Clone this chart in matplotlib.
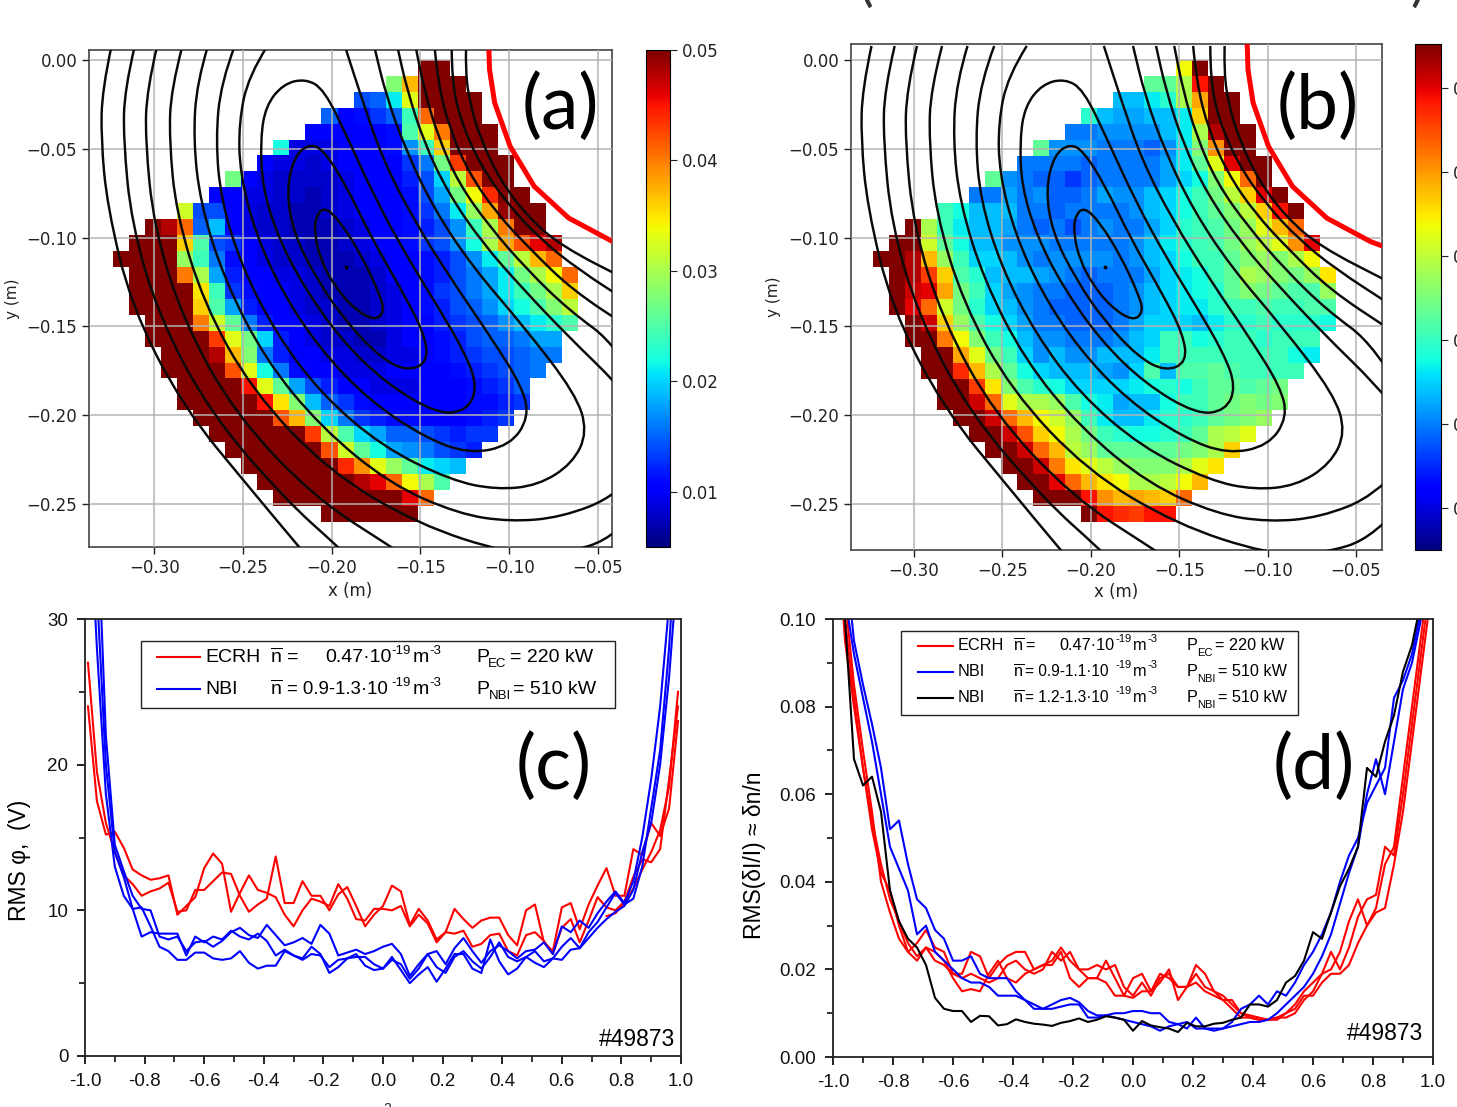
import numpy as np
import matplotlib
matplotlib.use('Agg')
import matplotlib.pyplot as plt
from matplotlib.path import Path
from matplotlib.patches import PathPatch, Rectangle
from matplotlib.lines import Line2D

W, H = 1457, 1107
plt.rcParams['mathtext.default'] = 'regular'
plt.rcParams['mathtext.fontset'] = 'custom'
plt.rcParams['mathtext.rm'] = 'Liberation Sans'

# Cell grid of the two maps (first column of each row, then cell values in 1e-3)
a_start = [19, 17, 15, 13, 12, 10, 9, 7, 6, 4, 2, 1, 0, 1, 1, 1, 2, 2, 3, 3, 4, 4, 5, 6, 7, 8, 9, 10, 13]
a_cells = [
    [50, 50],
    [28, 37, 50, 50, 50],
    [14, 15, 21, 33, 50, 50, 50, 50],
    [15, 10, 11, 13, 15, 24, 41, 50, 50, 50],
    [10, 10, 10, 10, 10, 11, 25, 33, 40, 50, 50, 50],
    [22, 9, 9, 9, 10, 10, 10, 11, 17, 24, 36, 50, 50, 50],
    [10, 9, 9, 8, 9, 10, 10, 10, 10, 13, 16, 27, 43, 50, 50, 50],
    [27, 10, 9, 8, 8, 8, 8, 9, 10, 10, 10, 12, 14, 20, 31, 42, 50, 50],
    [10, 10, 9, 9, 8, 8, 7, 8, 9, 10, 10, 10, 11, 14, 18, 27, 34, 44, 50, 50],
    [32, 14, 14, 10, 9, 8, 8, 7, 7, 8, 9, 10, 10, 10, 11, 13, 16, 21, 29, 38, 49, 50, 50],
    [50, 48, 41, 15, 19, 10, 9, 8, 8, 7, 7, 7, 8, 9, 10, 10, 11, 12, 14, 17, 24, 30, 40, 50, 50],
    [50, 50, 50, 36, 25, 14, 13, 10, 9, 8, 8, 7, 7, 8, 9, 10, 10, 11, 13, 14, 17, 22, 30, 38, 42, 46, 48],
    [50, 50, 50, 50, 29, 24, 16, 11, 10, 9, 8, 8, 7, 7, 7, 8, 9, 10, 10, 11, 12, 14, 17, 21, 26, 31, 37, 41],
    [50, 50, 50, 40, 30, 18, 12, 10, 10, 9, 9, 8, 7, 7, 7, 8, 10, 10, 11, 12, 14, 16, 18, 21, 27, 30, 34, 41],
    [50, 50, 50, 50, 35, 24, 13, 11, 10, 10, 9, 8, 7, 7, 7, 8, 9, 10, 11, 13, 14, 16, 18, 21, 24, 27, 30, 36],
    [50, 50, 50, 50, 36, 25, 18, 12, 10, 10, 9, 8, 8, 7, 7, 8, 9, 10, 11, 12, 14, 15, 17, 20, 22, 25, 28, 31],
    [50, 50, 50, 40, 32, 26, 16, 12, 10, 10, 9, 8, 7, 7, 8, 9, 10, 10, 12, 13, 14, 15, 17, 19, 21, 23, 25],
    [50, 50, 50, 50, 43, 33, 27, 20, 12, 10, 9, 8, 8, 7, 7, 9, 10, 10, 11, 12, 14, 15, 15, 16, 18, 18],
    [50, 50, 50, 48, 37, 28, 16, 12, 10, 10, 9, 9, 8, 8, 9, 9, 10, 11, 12, 13, 14, 14, 15, 16, 16],
    [50, 50, 50, 50, 42, 33, 22, 16, 11, 10, 10, 9, 9, 9, 10, 10, 10, 10, 11, 12, 13, 14, 15, 16],
    [50, 50, 50, 50, 45, 33, 26, 18, 14, 12, 10, 10, 9, 9, 9, 10, 10, 10, 11, 12, 13, 15],
    [50, 50, 50, 50, 50, 45, 35, 28, 19, 15, 13, 11, 10, 10, 10, 10, 10, 10, 11, 11, 12, 13],
    [50, 50, 50, 50, 50, 42, 37, 28, 20, 16, 13, 12, 11, 11, 10, 10, 10, 11, 12, 13],
    [50, 50, 50, 50, 50, 50, 43, 31, 25, 20, 18, 15, 15, 14, 13, 12, 13, 13],
    [50, 50, 50, 50, 50, 50, 42, 32, 26, 22, 18, 17, 16, 14, 13, 12],
    [50, 50, 50, 50, 50, 50, 44, 39, 33, 29, 26, 21, 20, 19],
    [50, 50, 50, 50, 50, 50, 48, 46, 41, 34, 30, 25],
    [50, 50, 50, 50, 50, 50, 50, 50, 46, 41],
    [50, 50, 50, 50, 50, 50],
]
b_start = [19, 17, 15, 13, 12, 10, 9, 7, 6, 4, 2, 1, 0, 1, 1, 1, 2, 2, 3, 3, 4, 4, 5, 6, 7, 8, 9, 10, 13]
b_cells = [
    [34, 50],
    [26, 26, 30, 45, 50],
    [19, 19, 21, 23, 30, 38, 50, 50],
    [23, 19, 18, 18, 19, 19, 21, 36, 50, 50],
    [16, 16, 17, 17, 17, 17, 19, 21, 30, 48, 50, 50],
    [26, 17, 17, 17, 16, 16, 16, 15, 17, 21, 28, 39, 50, 50],
    [16, 16, 16, 16, 15, 16, 16, 16, 16, 18, 21, 26, 33, 46, 50, 50],
    [26, 17, 16, 15, 15, 13, 15, 16, 16, 16, 16, 18, 20, 22, 28, 34, 41, 50],
    [16, 16, 18, 16, 17, 15, 15, 16, 18, 17, 17, 19, 20, 22, 24, 27, 31, 36, 46, 50],
    [24, 22, 19, 19, 19, 16, 16, 15, 16, 16, 16, 16, 17, 19, 20, 22, 24, 26, 28, 31, 36, 45, 50],
    [50, 30, 24, 21, 19, 19, 18, 16, 15, 16, 14, 16, 17, 16, 16, 18, 20, 23, 24, 25, 27, 29, 33, 37, 41],
    [50, 50, 32, 26, 22, 19, 19, 17, 17, 17, 16, 16, 16, 16, 16, 17, 19, 21, 23, 24, 25, 27, 29, 31, 33, 39, 46],
    [50, 50, 48, 37, 29, 24, 20, 20, 19, 17, 16, 17, 17, 17, 17, 16, 17, 19, 20, 22, 24, 24, 26, 28, 29, 28, 30, 34],
    [50, 48, 43, 36, 25, 23, 19, 19, 19, 18, 17, 16, 15, 16, 16, 16, 18, 20, 21, 22, 24, 26, 30, 29, 28, 27, 29, 35],
    [50, 47, 46, 38, 27, 24, 20, 18, 17, 16, 16, 15, 15, 15, 16, 17, 19, 20, 21, 22, 23, 26, 28, 27, 26, 25, 25, 29],
    [50, 46, 41, 32, 27, 23, 20, 19, 17, 16, 15, 15, 15, 15, 16, 17, 19, 20, 21, 21, 23, 24, 24, 25, 24, 24, 25, 25],
    [50, 47, 36, 29, 25, 22, 20, 18, 16, 16, 15, 15, 15, 16, 18, 20, 20, 20, 19, 21, 23, 23, 24, 23, 23, 23, 22],
    [50, 50, 40, 34, 28, 24, 22, 19, 17, 17, 16, 16, 16, 17, 19, 20, 24, 24, 22, 23, 24, 24, 23, 24, 24, 24],
    [50, 50, 38, 33, 27, 24, 20, 17, 19, 17, 17, 19, 19, 19, 21, 24, 24, 24, 24, 24, 24, 24, 24, 22, 21],
    [50, 50, 44, 37, 30, 26, 22, 20, 19, 19, 19, 18, 17, 20, 25, 19, 25, 25, 26, 25, 24, 24, 24, 24],
    [50, 50, 43, 35, 28, 25, 23, 22, 20, 20, 20, 20, 21, 22, 23, 22, 24, 26, 26, 25, 26, 27],
    [50, 50, 47, 41, 33, 30, 30, 29, 25, 22, 21, 18, 19, 19, 22, 24, 24, 26, 27, 28, 27, 28],
    [50, 50, 47, 41, 37, 34, 32, 29, 24, 21, 19, 19, 21, 23, 23, 24, 26, 27, 28, 29],
    [50, 50, 47, 42, 36, 34, 30, 27, 24, 23, 22, 22, 23, 24, 26, 30, 31, 33],
    [50, 50, 47, 41, 37, 31, 29, 26, 26, 26, 26, 26, 27, 28, 30, 36],
    [50, 50, 47, 40, 35, 33, 31, 29, 28, 28, 28, 30, 33, 35],
    [50, 50, 46, 41, 37, 35, 34, 30, 30, 31, 34, 37],
    [50, 50, 50, 45, 39, 37, 38, 37, 36, 41],
    [50, 45, 44, 43, 45, 45],
]

# Flux surfaces, metres
c1_x = [-.2038, -.2090, -.2096, -.2061, -.1993, -.1887, -.1761, -.1702, -.1732, -.1829, -.1945]
c1_y = [-.0825, -.0881, -.0985, -.1126, -.1258, -.1389, -.1470, -.1418, -.1314, -.1107, -.0919]
c2_x = [-.2116, -.2207, -.2255, -.2216, -.2081, -.1926, -.1732, -.1576, -.1456, -.1479, -.1596, -.1770, -.1926, -.2042]
c2_y = [-.0471, -.0533, -.0730, -.0975, -.1239, -.1465, -.1672, -.1753, -.1700, -.1540, -.1314, -.1013, -.0693, -.0514]
c3_x = [-.2149, -.2275, -.2372, -.2401, -.2391, -.2304, -.2158, -.1945, -.1693, -.1402, -.1237, -.1179, -.1247, -.1402, -.1576, -.1751, -.1906, -.2042]
c3_y = [-.0105, -.0137, -.0260, -.0448, -.0712, -.0994, -.1276, -.1578, -.1822, -.1995, -.1973, -.1841, -.1653, -.1389, -.1107, -.0787, -.0448, -.0166]
c4_x = [-.2362, -.2469, -.2523, -.2517, -.2430, -.2275, -.2061, -.1790, -.1479, -.1227, -.0995, -.0888, -.0927, -.1092, -.1324, -.1538, -.1712, -.1829, -.1926]
c4_y = [.0079, -.0090, -.0354, -.0636, -.0975, -.1314, -.1634, -.1916, -.2124, -.2218, -.2171, -.2011, -.1841, -.1578, -.1239, -.0900, -.0561, -.0222, .0079]
c5_x = [-.2546, -.2624, -.2653, -.2624, -.2507, -.2313, -.2061, -.1712, -.1324, -.1072, -.0839, -.0645, -.0558, -.0626, -.0917, -.1208, -.1421, -.1576, -.1693, -.1761]
c5_y = [.0079, -.0128, -.0448, -.0787, -.1163, -.1540, -.1879, -.2180, -.2368, -.2419, -.2396, -.2274, -.2095, -.1879, -.1502, -.1163, -.0843, -.0523, -.0203, .0079]
c6_x = [-.2697, -.2760, -.2779, -.2740, -.2604, -.2372, -.2061, -.1673, -.1286, -.0995, -.0704, -.0393, -.0122, -.0393, -.0665, -.0917, -.1150, -.1344, -.1479, -.1576, -.1631]
c6_y = [.0079, -.0128, -.0448, -.0806, -.1239, -.1690, -.2067, -.2387, -.2556, -.2600, -.2575, -.2453, -.2142, -.1822, -.1559, -.1295, -.1032, -.0749, -.0467, -.0166, .0079]
c7_x = [-.2841, -.2905, -.2915, -.2876, -.2721, -.2449, -.2022, -.1518, -.0995, -.0704, -.0393, -.0025, -.0393, -.0665, -.0898, -.1111, -.1286, -.1402, -.1479, -.1528]
c7_y = [.0079, -.0166, -.0448, -.0862, -.1370, -.1860, -.2312, -.2613, -.2782, -.2782, -.2688, -.2236, -.1606, -.1408, -.1182, -.0938, -.0693, -.0429, -.0166, .0079]
c8_x = [-.2983, -.3041, -.3050, -.3002, -.2837, -.2546, -.2100, -.1654, -.1518]
c8_y = [.0079, -.0166, -.0448, -.0938, -.1465, -.1992, -.2462, -.2749, -.2839]
c8u_x = [-.1421, -.1402, -.1334, -.1227, -.1072, -.0878, -.0645, -.0316]
c8u_y = [.0079, -.0128, -.0392, -.0636, -.0862, -.1069, -.1295, -.1512]
c9_x = [-.3109, -.3167, -.3173, -.3128, -.2973, -.2682, -.2255, -.1955, -.1867]
c9_y = [.0079, -.0166, -.0448, -.0919, -.1446, -.1992, -.2481, -.2749, -.2839]
c9u_x = [-.1324, -.1324, -.1276, -.1169, -.1014, -.0820, -.0607, -.0316]
c9u_y = [.0079, -.0109, -.0335, -.0580, -.0806, -.1013, -.1182, -.1370]
c10_x = [-.3240, -.3293, -.3299, -.3264, -.3128, -.2837, -.2449, -.2178, -.2100]
c10_y = [.0079, -.0166, -.0448, -.0825, -.1389, -.1954, -.2425, -.2749, -.2839]
c10u_x = [-.1243, -.1247, -.1218, -.1159, -.1053, -.0898, -.0704, -.0316]
c10u_y = [.0079, -.0072, -.0260, -.0448, -.0674, -.0881, -.1050, -.1248]
lcfs_x = [-.1115, -.1111, -.1082, -.0995, -.0859, -.0665, -.0418, -.0316]
lcfs_y = [.0079, -.0053, -.0241, -.0486, -.0712, -.0890, -.1022, -.1060]
axis_x, axis_y = -.1920, -.1163

# Profiles
rho = [-.99, -.96, -.93, -.90, -.87, -.84, -.81, -.78, -.75, -.72,
       -.69, -.66, -.63, -.60, -.57, -.54, -.51, -.48, -.45, -.42,
       -.39, -.36, -.33, -.30, -.27, -.24, -.21, -.18, -.15, -.12,
       -.09, -.06, -.03, 0, .03, .06, .09, .12, .15, .18,
       .21, .24, .27, .30, .33, .36, .39, .42, .45, .48,
       .51, .54, .57, .60, .63, .66, .69, .72, .75, .78,
       .81, .84, .87, .90, .93, .96, .99]

c_red1 = [24, 17.5, 15.2, 15.4, 14.3, 12.8, 12.4, 12.1, 12.2, 12.4,
          9.7, 10.3, 10.9, 12.9, 13.9, 13.2, 9.9, 11.2, 12.4, 11.4,
          11.2, 10.9, 9.7, 8.9, 10.0, 10.8, 10.6, 10.3, 11.8, 10.8,
          9.4, 9.3, 10.1, 10.1, 10.0, 10.3, 8.9, 9.7, 9.1, 7.8,
          8.5, 8.4, 8.6, 7.5, 7.7, 8.3, 8.4, 7.2, 6.9, 8.3,
          8.5, 7.9, 7.0, 8.8, 9.4, 7.8, 9.3, 10.9, 10.2, 10.0,
          10.6, 12.3, 13.5, 13.3, 14.2, 19, 24]
c_red2 = [27, 19.5, 16, 14.0, 12.4, 11.8, 11.0, 11.3, 11.5, 11.9,
          9.9, 10, 11.4, 11.4, 12, 12.6, 12.5, 11, 9.9, 10.4,
          10.8, 13.7, 10.5, 10.5, 12, 11.0, 11, 10, 11.1, 11.6,
          10.3, 8.9, 9.7, 10.3, 11.7, 11.3, 9.0, 10.1, 9.3, 8.0,
          8.5, 10.1, 9.4, 8.8, 9.3, 9.5, 9.5, 8.3, 7.6, 10.0,
          10.4, 7.8, 7.2, 10.2, 10.5, 8.7, 10.4, 11.7, 12.9, 11.0,
          11.0, 14.2, 13.8, 16, 15.1, 17, 23]
c_red3_x = [.75, .78, .81, .84, .87, .90, .93, .96, .99]
c_red3 = [9.6, 9.8, 10.5, 11.5, 12.8, 14, 15.5, 18.5, 25]
c_blue1 = [50, 38, 22, 14.5, 12.7, 11.0, 10.1, 10.0, 8.2, 8.0,
           8.2, 7.2, 7.8, 7.9, 7.5, 7.9, 8.5, 8.8, 8.3, 8.1,
           9.0, 8.3, 7.6, 7.8, 8.1, 7.7, 9.0, 8.4, 6.9, 7.1,
           7.3, 7.0, 7.2, 7.5, 7.7, 7.0, 5.5, 6.3, 7.0, 7.2,
           6.3, 7.4, 8.1, 7.2, 6.4, 7.2, 7.6, 7.2, 6.7, 7.2,
           7.3, 7.8, 7.0, 8.9, 8.5, 9.3, 8.8, 9.8, 10.6, 11.3,
           10.5, 12, 15, 19, 24, 31, 40]
c_blue2 = [44, 32, 20, 14, 12.3, 10.1, 8.2, 8.5, 8.4, 8.4,
           8.4, 6.9, 8.2, 7.8, 8.2, 8.0, 8.6, 8.2, 8.0, 8.4,
           7.9, 6.9, 7.3, 6.9, 6.7, 7.5, 7.0, 5.7, 6.1, 6.7,
           6.8, 6.8, 6.3, 6.0, 6.6, 6.3, 5.3, 6.0, 7.0, 6.1,
           5.7, 6.8, 7.2, 6.5, 6.0, 6.8, 7.8, 6.8, 6.5, 6.8,
           7.2, 6.5, 6.7, 7.5, 8.1, 7.4, 8.5, 9.2, 10.2, 11.2,
           10.4, 10.8, 13, 17, 21, 28, 38]
c_blue3 = [40, 28, 18, 13, 11, 10.1, 10.2, 8.9, 7.5, 7.2,
           6.6, 6.6, 7.1, 7.1, 6.7, 6.6, 6.7, 7.2, 6.4, 6.0,
           6.2, 6.2, 7.2, 6.9, 6.6, 7.0, 6.9, 6.1, 6.6, 6.7,
           7.0, 6.2, 5.9, 6.0, 6.8, 5.9, 5.0, 5.6, 6.1, 5.1,
           6.0, 7.0, 7.0, 6.0, 5.7, 8, 6.5, 5.6, 6.0, 6.8,
           6.4, 6.1, 6.7, 6.6, 7.3, 7.4, 8.1, 8.8, 9.4, 9.9,
           10.3, 11.4, 14, 16, 20, 26, 34]

# panel (d) values in 1e-3
d_red1 = [130, 100, 82, 66, 54, 44, 36, 31, 26, 23,
          25, 22, 21, 19, 19, 24, 23, 18, 21, 23,
          24, 24, 20, 21, 22, 25, 22, 20, 18, 18,
          22, 18, 14, 18, 19, 15, 17, 20, 13, 16,
          21, 19, 15, 14, 12, 10, 9.5, 9, 8.5, 9,
          9, 10, 13, 15, 19, 24, 20, 25, 32, 36,
          37, 48, 46, 60, 76, 92, 108]
d_red2 = [125, 95, 80, 66, 52, 42, 38, 30, 24, 22,
          25, 24, 22, 18, 15, 15.5, 15, 19, 22, 18,
          17, 19, 20, 21, 21, 24, 18, 16, 18, 18,
          17, 14, 14, 13.5, 15, 15, 19, 18, 16, 16,
          17, 15, 14, 13, 11, 9, 9, 8.5, 8.5, 8.5,
          10, 11, 14, 14, 17, 19, 19, 21, 26, 30,
          33, 34, 44, 56, 72, 88, 104]
d_red3 = [135, 105, 85, 70, 56, 40, 33, 27, 24, 26,
          29, 25, 24, 19, 18, 19, 18, 17, 18, 21,
          22, 20, 19, 20, 24, 22, 24, 20, 20, 21,
          20, 21, 16, 14, 17, 14, 18, 19, 16, 16,
          19, 16, 15, 13, 13, 10, 9, 8.5, 8.5, 9,
          10, 12, 15, 17, 19, 20, 24, 31, 36, 30,
          34, 44, 48, 64, 80, 96, 112]
d_blue1 = [140, 115, 95, 85, 76, 66, 52, 54, 44, 36,
           34, 29, 27, 22, 22, 23, 19, 18, 18, 18,
           15, 13, 11, 11, 12, 13, 13.5, 12.5, 10.5, 9.5,
           9.5, 9, 8.5, 8, 7.5, 7, 6, 7, 7.5, 8,
           6.5, 6.5, 6.5, 6.5, 8, 11, 12, 14, 12, 15,
           14, 17, 21, 24, 28, 33, 40, 46, 50, 58,
           62, 66, 82, 86, 92, 102, 125]
d_blue2 = [128, 105, 92, 82, 72, 60, 48, 43, 38, 28,
           30, 24, 22, 20, 18, 17, 17, 16, 14, 14,
           14, 13, 12, 11, 11, 11.5, 12, 12, 9, 9,
           9.5, 10, 10, 10.5, 10.5, 10, 10, 8, 7.5, 6.5,
           9, 6.5, 6, 6.5, 7, 7.5, 8, 8, 8.5, 10,
           12, 14, 16, 19, 23, 28, 35, 42, 48, 60,
           68, 60, 72, 84, 90, 100, 118]
d_black = [130, 100, 68, 62, 64, 56, 38, 31, 27, 25,
           21, 13.5, 11, 10.5, 10.5, 8, 9.4, 9.3, 7.2, 7.5,
           8.6, 8, 7.6, 7.4, 7.1, 7.8, 8.2, 8.8, 8, 8.5,
           9.3, 9, 8.5, 6, 8.2, 7.2, 6.8, 6.5, 5.7, 7.8,
           7, 7, 7.6, 7.8, 8.5, 9, 12, 12, 11.5, 13,
           17, 18.5, 22, 28.5, 27, 33, 39, 43, 48, 66,
           64, 72, 78, 88, 94, 104, 125]

x_ticks_map = [-.30, -.25, -.20, -.15, -.10, -.05]
y_ticks_map = [0, -.05, -.10, -.15, -.20, -.25]
rho_ticks = [-1.0, -0.8, -0.6, -0.4, -0.2, 0.0, 0.2, 0.4, 0.6, 0.8, 1.0]


def px_axes(left, top, right, bottom):
    return fig.add_axes([left / W, 1 - bottom / H, (right - left) / W, (bottom - top) / H])


def put(x, y, s, **kw):
    kw.setdefault('va', 'center')
    kw.setdefault('family', 'Liberation Sans')
    fig.text(x / W, 1 - y / H, s, **kw)


def smooth(x, y, closed=False):
    p = np.column_stack([x, y])
    mid = (p + np.roll(p, -1, axis=0)) / 2
    if closed:
        verts = [mid[-1]]
        for i in range(len(p)):
            verts += [p[i], mid[i]]
        return Path(verts, [Path.MOVETO] + [Path.CURVE3] * (2 * len(p)))
    verts = [p[0]]
    for i in range(1, len(p) - 1):
        verts += [p[i], mid[i]]
    verts.append(p[-1])
    return Path(verts, [Path.MOVETO] + [Path.CURVE3] * (2 * (len(p) - 2)) + [Path.LINETO])


def grid_from(start, cells):
    g = np.full((29, 29), np.nan)
    for j, (s, row) in enumerate(zip(start, cells)):
        g[j, s:s + len(row)] = row
    return np.ma.masked_invalid(g)


def draw_map(ax, values, vmin, vmax, xlim, ylim):
    xe = np.linspace(-.3231, -.0613, 30)
    ye = np.linspace(0, -.2600, 30)
    m = ax.pcolormesh(xe, ye, values, cmap='jet', vmin=vmin, vmax=vmax, zorder=1)
    for x, y, closed in [(c1_x, c1_y, True), (c2_x, c2_y, True), (c3_x, c3_y, True),
                         (c4_x, c4_y, False), (c5_x, c5_y, False), (c6_x, c6_y, False),
                         (c7_x, c7_y, False), (c8_x, c8_y, False), (c8u_x, c8u_y, False),
                         (c9_x, c9_y, False), (c9u_x, c9u_y, False),
                         (c10_x, c10_y, False), (c10u_x, c10u_y, False)]:
        ax.add_patch(PathPatch(smooth(x, y, closed), fc='none', ec='#0a0a0a', lw=1.75, zorder=3))
    ax.plot(lcfs_x, lcfs_y, color='#ff0000', lw=3.6, zorder=4)
    ax.plot(axis_x, axis_y, 'o', color='k', ms=1.8, zorder=4)
    ax.set_xlim(xlim)
    ax.set_ylim(ylim)
    ax.set_xticks(x_ticks_map)
    ax.set_yticks(y_ticks_map)
    ax.grid(True, color='#b4b4b4', lw=1.1, zorder=2)
    ax.set_axisbelow(False)
    ax.tick_params(labelsize=12, length=5, width=1, colors='#222222')
    for sp in ax.spines.values():
        sp.set_color('#444444')
        sp.set_linewidth(1.2)
    return m


def draw_profiles(ax, ylim, yticks, yminor, fmt):
    ax.set_xlim(-1, 1)
    ax.set_ylim(ylim)
    ax.set_xticks(rho_ticks)
    ax.set_xticklabels(['%.1f' % t for t in rho_ticks], family='Liberation Sans', fontsize=13.5)
    ax.set_xticks(np.arange(-.9, 1, .2), minor=True)
    ax.set_yticks(yticks)
    ax.set_yticklabels([fmt % t for t in yticks], family='Liberation Sans', fontsize=13.5)
    ax.set_yticks(yminor, minor=True)
    ax.tick_params(which='major', length=6, width=1.3, pad=6, colors='#111111')
    ax.tick_params(which='minor', length=4, width=1.2, colors='#111111')
    for sp in ax.spines.values():
        sp.set_linewidth(1.3)
        sp.set_color('#222222')


def legend_row(y, fs, lab_x, lab, bar_x, eq_x, eq, eq_fs, val_x, val, exp_x, unit_x, unit_exp_x, p_x, sub_x, sub, pw_x, pw, sup_fs):
    put(lab_x, y, lab, fontsize=fs)
    put(bar_x, y, r'$\overline{n}$', fontsize=fs)
    put(eq_x, y, eq, fontsize=eq_fs)
    if val:
        put(val_x, y, val, fontsize=fs)
    put(exp_x, y - 6.5, '-19', fontsize=sup_fs)
    put(unit_x, y, 'm', fontsize=fs)
    put(unit_exp_x, y - 6.5, '-3', fontsize=sup_fs)
    put(p_x, y, 'P', fontsize=fs)
    put(sub_x, y + 7, sub, fontsize=sup_fs)
    put(pw_x, y, pw, fontsize=fs)


fig = plt.figure(figsize=(W / 100, H / 100), dpi=100)

# (a)
ax_a = px_axes(89, 50, 612, 547)
m_a = draw_map(ax_a, grid_from(a_start, a_cells) * 1e-3, .005, .05, (-.3367, -.0421), (-.2742, .0056))
ax_a.set_xlabel('x (m)', fontsize=12, labelpad=3.5, color='#222222')
ax_a.set_ylabel('y (m)', fontsize=11, labelpad=5, color='#222222')
cax_a = px_axes(646, 50, 670, 547)
cb_a = fig.colorbar(m_a, cax=cax_a, ticks=[.01, .02, .03, .04, .05])
cb_a.ax.tick_params(labelsize=12, length=5, colors='#222222')
cb_a.ax.set_yticklabels(['0.01', '0.02', '0.03', '0.04', '0.05'])

# (b), cells were read against the colour bar, whose range runs to 0.065
ax_b = px_axes(851, 44, 1382, 550)
b_grid = .005 + (grid_from(b_start, b_cells) - 5) / 45 * .0602
m_b = draw_map(ax_b, b_grid, .005, .0652, (-.3356, -.0353), (-.2758, .0090))
ax_b.set_xlabel('x (m)', fontsize=12, labelpad=2.5, color='#222222')
ax_b.set_ylabel('y (m)', fontsize=11, labelpad=5, color='#222222')
cax_b = px_axes(1415, 44, 1441, 550)
cb_b = fig.colorbar(m_b, cax=cax_b, ticks=[.01, .02, .03, .04, .05, .06])
cb_b.ax.tick_params(labelsize=12, length=5, colors='#222222')
cb_b.ax.set_yticklabels(['0.01', '0.02', '0.03', '0.04', '0.05', '0.06'])

# (c)
ax_c = px_axes(85, 619, 681, 1056)
draw_profiles(ax_c, (0, 30), [0, 10, 20, 30], [5, 15, 25], '%d')
ax_c.plot(rho, c_red1, color='#ff0000', lw=1.5)
ax_c.plot(rho, c_red2, color='#ff0000', lw=1.5)
ax_c.plot(c_red3_x, c_red3, color='#ff0000', lw=1.5)
ax_c.plot(rho, c_blue1, color='#0000ff', lw=1.5)
ax_c.plot(rho, c_blue2, color='#0000ff', lw=1.5)
ax_c.plot(rho, c_blue3, color='#0000ff', lw=1.5)
put(20, 860, 'RMS φ,  (V)', rotation=90, ha='center', fontsize=16.5)
put(675, 1040, '#49873', ha='right', fontsize=16.5)

# (d)
ax_d = px_axes(833, 619, 1433, 1057)
draw_profiles(ax_d, (0, .10), [0, .02, .04, .06, .08, .10], [.01, .03, .05, .07, .09], '%.2f')
ax_d.plot(rho, np.array(d_red1) * 1e-3, color='#ff0000', lw=1.5)
ax_d.plot(rho, np.array(d_red2) * 1e-3, color='#ff0000', lw=1.5)
ax_d.plot(rho, np.array(d_red3) * 1e-3, color='#ff0000', lw=1.5)
ax_d.plot(rho, np.array(d_blue1) * 1e-3, color='#0000ff', lw=1.5)
ax_d.plot(rho, np.array(d_blue2) * 1e-3, color='#0000ff', lw=1.5)
ax_d.plot(rho, np.array(d_black) * 1e-3, color='#000000', lw=1.5)
put(755, 855, 'RMS(δI/I) ≈ δn/n', rotation=90, ha='center', fontsize=16.5)
put(1423, 1034, '#49873', ha='right', fontsize=16.5)

# Legends
fig.add_artist(Rectangle((141 / W, 1 - 708 / H), 474 / W, 67 / H, transform=fig.transFigure, fc='white', ec='#222222', lw=1))
fig.add_artist(Line2D([157 / W, 200 / W], [1 - 657 / H] * 2, color='#ff0000', lw=1.5))
fig.add_artist(Line2D([157 / W, 200 / W], [1 - 689 / H] * 2, color='#0000ff', lw=1.5))
legend_row(657, 14, 205, 'ECRH', 270, 287, '=', 14, 325, '0.47·10', 391, 413, 429, 476, 488, 'EC', 510, '= 220 kW', 9.5)
legend_row(689, 14, 205, 'NBI', 270, 287, '= 0.9-1.3·10', 13.4, 0, '', 391, 413, 429, 476, 489, 'NBI', 513, '= 510 kW', 9.5)

fig.add_artist(Rectangle((901 / W, 1 - 715 / H), 397 / W, 84 / H, transform=fig.transFigure, fc='white', ec='#222222', lw=1))
for y, col in [(646, '#ff0000'), (672, '#0000ff'), (698, '#000000')]:
    fig.add_artist(Line2D([918 / W, 953 / W], [1 - y / H] * 2, color=col, lw=1.5))
legend_row(646, 11.7, 958, 'ECRH', 1013, 1025, '=', 11.7, 1059, '0.47·10', 1115, 1133, 1148, 1187, 1197, 'EC', 1215, '= 220 kW', 8)
legend_row(672, 11.7, 958, 'NBI', 1013, 1025, '= 0.9-1.1·10', 11.2, 0, '', 1115, 1133, 1148, 1187, 1197, 'NBI', 1218, '= 510 kW', 8)
legend_row(698, 11.7, 958, 'NBI', 1013, 1025, '= 1.2-1.3·10', 11.2, 0, '', 1115, 1133, 1148, 1187, 1197, 'NBI', 1218, '= 510 kW', 8)

# Panel letters
for x, y, s, fs in [(560, 107, '(a)', 54), (1318, 107, '(b)', 54), (554, 767, '(c)', 54), (1314, 767, '(d)', 54)]:
    put(x, y, s, ha='center', family='Lato', fontsize=fs, color='k', zorder=10)

# Edges of text cut off by the crop
put(866, -16, '(', ha='center', family='Lato', fontsize=40, color='#333333')
put(1418, -16, ')', ha='center', family='Lato', fontsize=40, color='#333333')
put(387, 1109, '2', ha='center', fontsize=10, color='#222222')

fig.savefig('out.png', dpi=100)
